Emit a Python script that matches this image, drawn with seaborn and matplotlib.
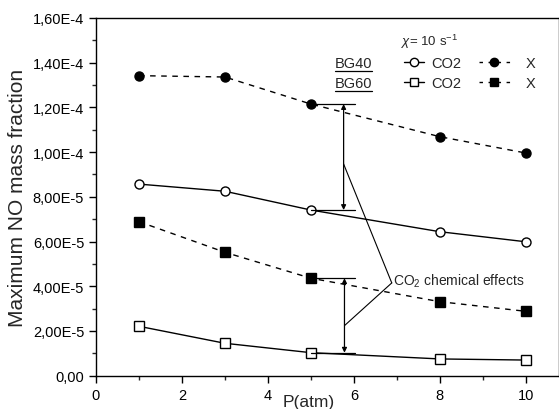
import numpy as np
import pandas as pd
import seaborn as sns
import matplotlib.pyplot as plt
from matplotlib.lines import Line2D
from matplotlib.ticker import FuncFormatter, MultipleLocator

# Data
pressure = [1, 3, 5, 8, 10]
bg40_co2 = [8.57e-5, 8.25e-5, 7.41e-5, 6.44e-5, 5.99e-5]
bg40_x = [1.342e-4, 1.336e-4, 1.215e-4, 1.069e-4, 0.996e-4]
bg60_co2 = [2.21e-5, 1.45e-5, 1.03e-5, 0.75e-5, 0.70e-5]
bg60_x = [6.89e-5, 5.52e-5, 4.36e-5, 3.31e-5, 2.88e-5]

sns.set_style('ticks')
plt.rcParams['font.family'] = ['Liberation Sans', 'DejaVu Sans']
plt.rcParams['mathtext.fontset'] = 'custom'
plt.rcParams['mathtext.rm'] = 'Liberation Sans'
plt.rcParams['mathtext.it'] = 'Liberation Sans:italic'

fig = plt.figure(figsize=(5.59, 4.10), dpi=100)
ax = fig.add_axes([0.1717, 0.0812, 0.8283, 0.8725])

ms = 6.5
series = [
    (bg40_co2, 'o', 'white', '-'),
    (bg40_x, 'o', 'black', (0, (4, 4))),
    (bg60_co2, 's', 'white', '-'),
    (bg60_x, 's', 'black', (0, (4, 4))),
]
for vals, mk, fc, ls in series:
    df = pd.DataFrame({'P': pressure, 'NO': vals})
    sns.lineplot(data=df, x='P', y='NO', ax=ax, color='black', lw=1.0,
                 linestyle=ls, marker=mk, markersize=ms, markerfacecolor=fc,
                 markeredgecolor='black', markeredgewidth=1.0)

# Chemical effect bars and arrows at P = 5
bar_end = 6.02
for hi, lo, xa in [(bg40_x[2], bg40_co2[2], 5.76), (bg60_x[2], bg60_co2[2], 5.78)]:
    ax.plot([pressure[2], bar_end], [hi, hi], color='black', lw=0.9)
    ax.plot([pressure[2], bar_end], [lo, lo], color='black', lw=0.9)
    ax.annotate('', xy=(xa, hi), xytext=(xa, lo),
                arrowprops=dict(arrowstyle='<|-|>', color='black', lw=0.9,
                                mutation_scale=7, shrinkA=0, shrinkB=0))

label_pt = (6.88, 4.15e-5)
for tgt in [(5.76, 9.47e-5), (5.78, 2.24e-5)]:
    ax.plot([label_pt[0], tgt[0]], [label_pt[1], tgt[1]], color='black', lw=0.8)
ax.text(label_pt[0] + 0.02, label_pt[1] + 0.1e-5, 'CO$_2$ chemical effects',
        fontsize=10, va='center', ha='left')

ax.set_xlim(0, 10.77)
ax.set_ylim(0, 1.6e-4)
ax.xaxis.set_major_locator(MultipleLocator(2))
ax.xaxis.set_minor_locator(MultipleLocator(1))
ax.yaxis.set_major_locator(MultipleLocator(2e-5))
ax.yaxis.set_minor_locator(MultipleLocator(1e-5))


def fmt_y(v, pos):
    if abs(v) < 1e-12:
        return '0,00'
    exp = int(np.floor(np.log10(abs(v))))
    mant = v / 10 ** exp
    return f'{mant:.2f}'.replace('.', ',') + f'E{exp}'


ax.yaxis.set_major_formatter(FuncFormatter(fmt_y))
ax.xaxis.set_major_formatter(FuncFormatter(lambda v, p: f'{int(round(v))}'))
ax.tick_params(which='major', direction='out', length=5, width=1, labelsize=10.5, colors='black')
ax.tick_params(which='minor', direction='out', length=3, width=1)
for s in ax.spines.values():
    s.set_linewidth(1.0)
    s.set_color('black')

ax.set_xlabel('P(atm)', fontsize=12.5)
ax.xaxis.set_label_coords(0.46, -0.05)
ax.set_ylabel('Maximum NO mass fraction', fontsize=15, labelpad=4)

# Legend block
ax.text(0.721, 0.936, r'$\chi$= 10 s$^{-1}$', transform=ax.transAxes,
        fontsize=9.5, ha='center', va='center')
for name, fy in [('BG40', 0.875), ('BG60', 0.819)]:
    ax.text(0.516, fy, name, transform=ax.transAxes, fontsize=10.5,
            ha='left', va='center')
    ax.add_line(Line2D([0.516, 0.596], [fy - 0.023, fy - 0.023],
                       transform=ax.transAxes, color='black', lw=0.9))

h_co2 = [Line2D([], [], color='black', lw=1, marker='o', ms=6, mfc='white', mec='black'),
         Line2D([], [], color='black', lw=1, marker='s', ms=6, mfc='white', mec='black')]
h_x = [Line2D([], [], color='black', lw=1, ls=(0, (2.5, 4)), marker='o', ms=6, mfc='black', mec='black'),
       Line2D([], [], color='black', lw=1, ls=(0, (2.5, 4)), marker='s', ms=6, mfc='black', mec='black')]
leg1 = ax.legend(h_co2, ['CO2', 'CO2'], loc='upper left', bbox_to_anchor=(0.665, 0.894),
                 frameon=False, fontsize=10.5, handlelength=1.4, handletextpad=0.45,
                 borderpad=0, borderaxespad=0, labelspacing=0.42)
ax.add_artist(leg1)
ax.legend(h_x, ['X', 'X'], loc='upper left', bbox_to_anchor=(0.827, 0.894),
          frameon=False, fontsize=10.5, handlelength=2.1, handletextpad=1.1,
          borderpad=0, borderaxespad=0, labelspacing=0.42)

fig.savefig('out.png', dpi=100)
